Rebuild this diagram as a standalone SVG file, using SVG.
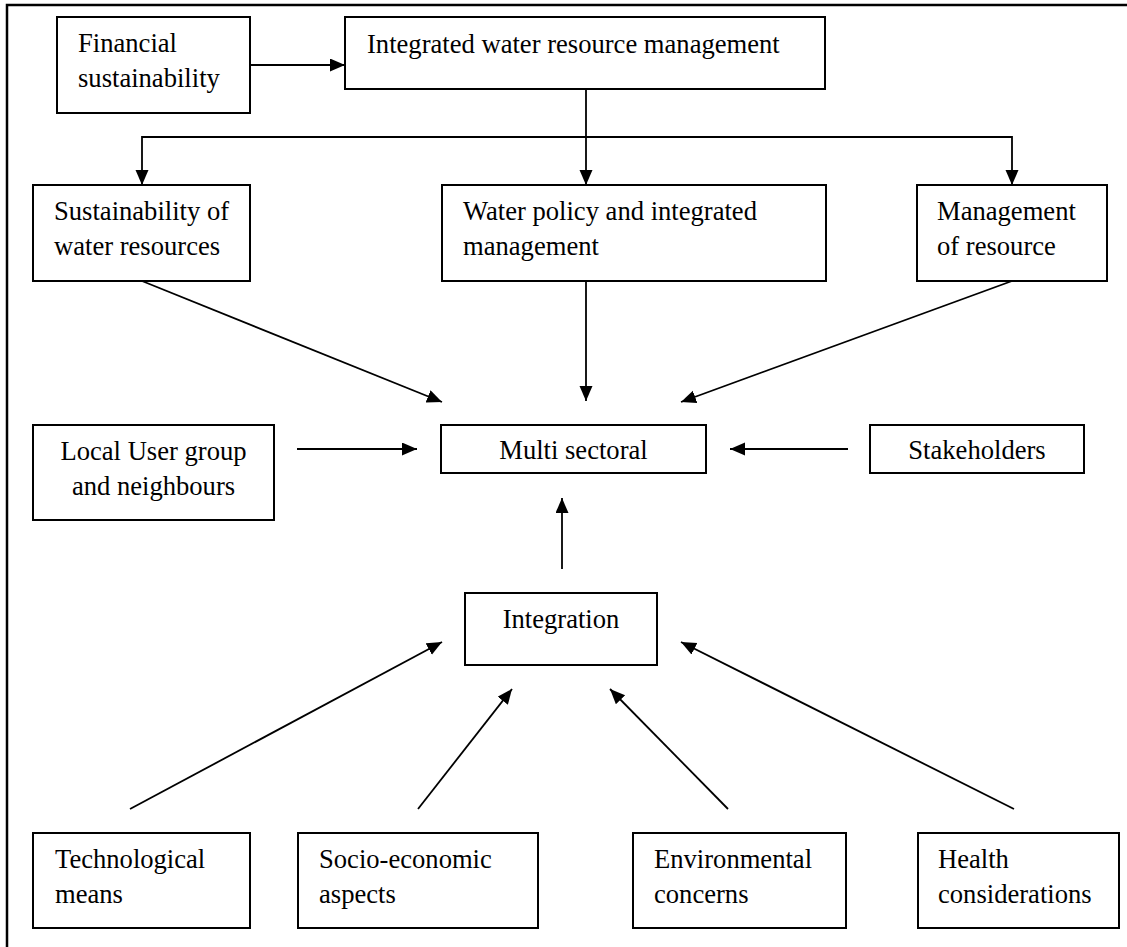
<svg xmlns="http://www.w3.org/2000/svg" width="1127" height="947" viewBox="0 0 1127 947">
  <style>
    .box { fill: #ffffff; stroke: #000000; stroke-width: 2; }
    .lbl { font-family: "Liberation Serif", "Times New Roman", serif; font-size: 26.6px; fill: #000000; }
    .mid { text-anchor: middle; }
    .edge { fill: none; stroke: #000000; stroke-width: 1.8; }
    .arr { marker-end: url(#head); }
  </style>
  <defs>
    <marker id="head" markerUnits="userSpaceOnUse" markerWidth="16" markerHeight="14" refX="15" refY="6.5" orient="auto">
      <path d="M0,0 L15,6.5 L0,13 Z" fill="#000000"/>
    </marker>
  </defs>

  <rect width="1127" height="947" fill="#ffffff"/>

  <!-- outer frame -->
  <path d="M7,947 V5 H1127" fill="none" stroke="#000000" stroke-width="2.5"/>

  <!-- connectors -->
  <g id="connectors">
    <path class="edge arr" d="M250,65 H345"/>
    <path class="edge arr" d="M586,89 V185"/>
    <path class="edge arr" d="M586,137 H142 V185"/>
    <path class="edge arr" d="M586,137 H1012 V185"/>
    <path class="edge arr" d="M142,281 L442,402"/>
    <path class="edge arr" d="M586,281 V401"/>
    <path class="edge arr" d="M1012,281 L681,402"/>
    <path class="edge arr" d="M297,449 H417"/>
    <path class="edge arr" d="M848,449 H730"/>
    <path class="edge arr" d="M562,569 V498"/>
    <path class="edge arr" d="M130,809 L442,642"/>
    <path class="edge arr" d="M418,809 L512,689"/>
    <path class="edge arr" d="M728,809 L610,689"/>
    <path class="edge arr" d="M1014,809 L681,642"/>
  </g>

  <!-- nodes -->
  <g id="financial">
    <rect class="box" x="57" y="17" width="193" height="96"/>
    <text class="lbl" x="78" y="52">Financial</text>
    <text class="lbl" x="78" y="87">sustainability</text>
  </g>
  <g id="iwrm">
    <rect class="box" x="345" y="17" width="480" height="72"/>
    <text class="lbl" x="367" y="53">Integrated water resource management</text>
  </g>
  <g id="sustainability">
    <rect class="box" x="33" y="185" width="217" height="96"/>
    <text class="lbl" x="54" y="220">Sustainability of</text>
    <text class="lbl" x="54" y="255">water resources</text>
  </g>
  <g id="water-policy">
    <rect class="box" x="442" y="185" width="384" height="96"/>
    <text class="lbl" x="463" y="220">Water policy and integrated</text>
    <text class="lbl" x="463" y="255">management</text>
  </g>
  <g id="management">
    <rect class="box" x="917" y="185" width="190" height="96"/>
    <text class="lbl" x="937" y="220">Management</text>
    <text class="lbl" x="937" y="255">of resource</text>
  </g>
  <g id="local-users">
    <rect class="box" x="33" y="425" width="241" height="95"/>
    <text class="lbl mid" x="153.5" y="460">Local User group</text>
    <text class="lbl mid" x="153.5" y="495">and neighbours</text>
  </g>
  <g id="multi-sectoral">
    <rect class="box" x="441" y="425" width="265" height="48"/>
    <text class="lbl mid" x="573.5" y="459">Multi sectoral</text>
  </g>
  <g id="stakeholders">
    <rect class="box" x="870" y="425" width="214" height="48"/>
    <text class="lbl mid" x="977" y="459">Stakeholders</text>
  </g>
  <g id="integration">
    <rect class="box" x="465" y="593" width="192" height="72"/>
    <text class="lbl mid" x="561" y="628">Integration</text>
  </g>
  <g id="technological">
    <rect class="box" x="33" y="833" width="217" height="95"/>
    <text class="lbl" x="55" y="868">Technological</text>
    <text class="lbl" x="55" y="903">means</text>
  </g>
  <g id="socio-economic">
    <rect class="box" x="298" y="833" width="240" height="95"/>
    <text class="lbl" x="319" y="868">Socio-economic</text>
    <text class="lbl" x="319" y="903">aspects</text>
  </g>
  <g id="environmental">
    <rect class="box" x="633" y="833" width="213" height="95"/>
    <text class="lbl" x="654" y="868">Environmental</text>
    <text class="lbl" x="654" y="903">concerns</text>
  </g>
  <g id="health">
    <rect class="box" x="918" y="833" width="201" height="95"/>
    <text class="lbl" x="938" y="868">Health</text>
    <text class="lbl" x="938" y="903">considerations</text>
  </g>
</svg>
